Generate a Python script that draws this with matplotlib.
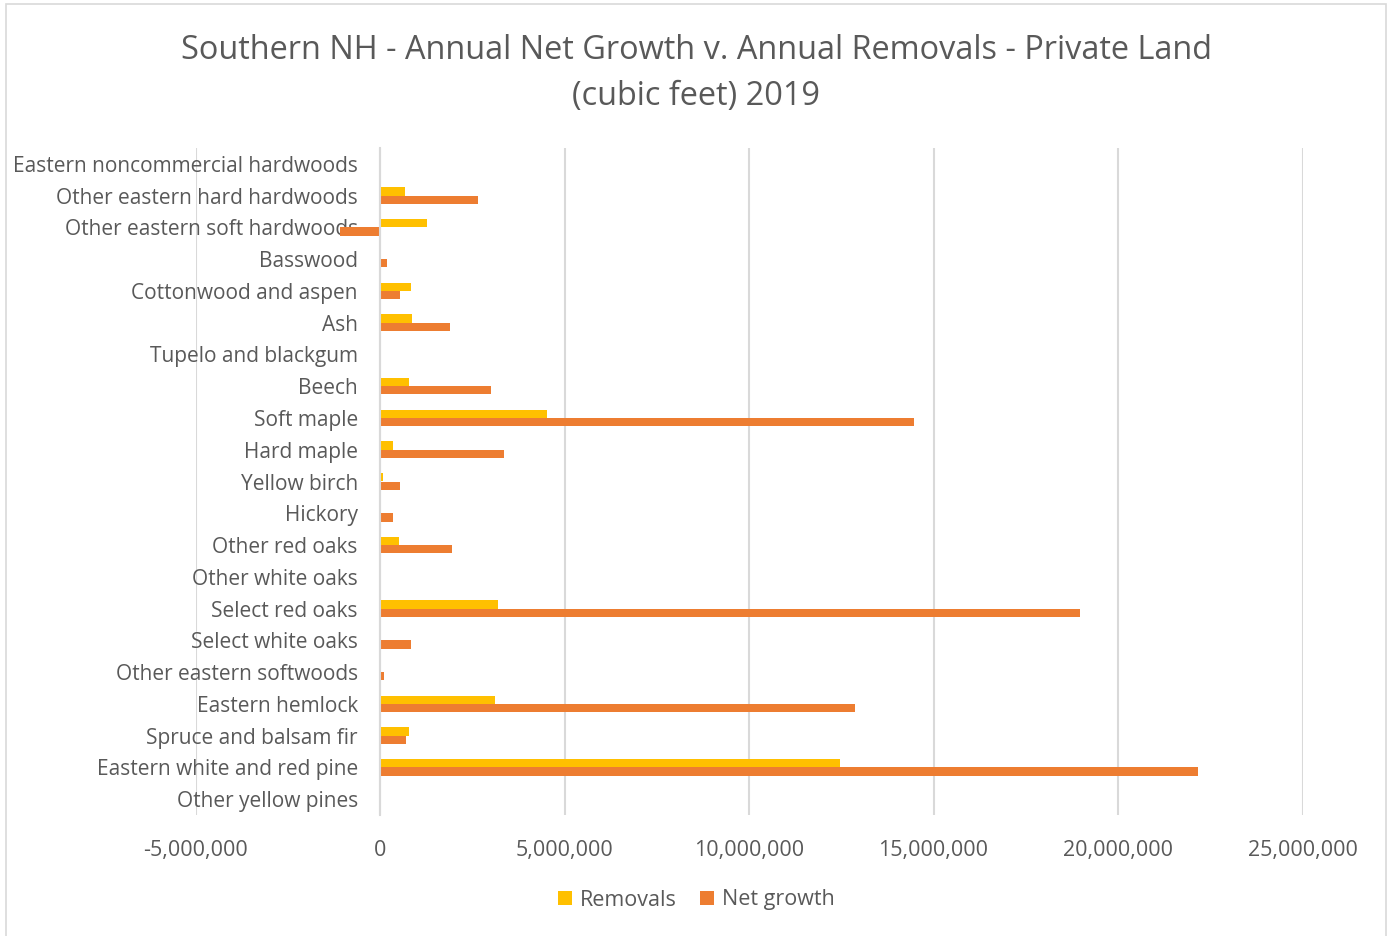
import numpy as np
import matplotlib.pyplot as plt
from matplotlib.ticker import FuncFormatter
from matplotlib.patches import Rectangle

plt.rcParams['font.family'] = ['Open Sans', 'DejaVu Sans']

# categories listed top to bottom as in the chart
species = ["Eastern noncommercial hardwoods", "Other eastern hard hardwoods",
           "Other eastern soft hardwoods", "Basswood", "Cottonwood and aspen",
           "Ash", "Tupelo and blackgum", "Beech", "Soft maple", "Hard maple",
           "Yellow birch", "Hickory", "Other red oaks", "Other white oaks",
           "Select red oaks", "Select white oaks", "Other eastern softwoods",
           "Eastern hemlock", "Spruce and balsam fir",
           "Eastern white and red pine", "Other yellow pines"]

removals = [0, 680000, 1270000, 0, 840000,
            880000, 0, 780000, 4530000, 360000,
            90000, 0, 520000, 0,
            3210000, 0, 0,
            3110000, 790000,
            12470000, 0]

net_growth = [0, 2660000, -1090000, 190000, 530000,
              1890000, 0, 3010000, 14480000, 3360000,
              540000, 350000, 1960000, 0,
              18980000, 830000, 100000,
              12860000, 700000,
              22160000, 0]

x_ticks = [-5000000, 0, 5000000, 10000000, 15000000, 20000000, 25000000]

col_rem = "#FFC000"
col_net = "#ED7D31"
txt_col = "#595959"
grid_col = "#D9D9D9"

fig = plt.figure(figsize=(13.93, 9.36), dpi=100)
ax = fig.add_axes([195.5 / 1393, 1 - 815 / 936, (1302.5 - 195.5) / 1393, (815 - 148) / 936])

pos = np.arange(len(species))
h = 0.26
ax.barh(pos - h / 2, removals, height=h, color=col_rem, label="Removals", zorder=3)
ax.barh(pos + h / 2, net_growth, height=h, color=col_net, label="Net growth", zorder=3)

ax.set_ylim(len(species) - 0.5, -0.5)
ax.set_xlim(x_ticks[0], x_ticks[-1])
ax.set_xticks(x_ticks)
ax.xaxis.set_major_formatter(FuncFormatter(lambda v, p: "{:,.0f}".format(v)))
ax.set_yticks(pos)
ax.set_yticklabels(species)

# category axis sits on the zero line, like excel does
ax.spines['left'].set_position(('data', 0))
ax.spines['left'].set_color(grid_col)
ax.spines['left'].set_linewidth(1.5)
ax.spines['left'].set_zorder(4)
for s in ['top', 'right', 'bottom']:
    ax.spines[s].set_visible(False)

ax.grid(axis='x', color=grid_col, linewidth=1.5, zorder=0)
ax.tick_params(axis='both', length=0, colors=txt_col)
ax.tick_params(axis='x', labelsize=15.5, pad=18)
ax.tick_params(axis='y', labelsize=15, pad=16)
for lbl in ax.get_yticklabels():
    lbl.set_zorder(5)

fig.text(0.5, 1 - 73.5 / 936,
         "Southern NH - Annual Net Growth v. Annual Removals - Private Land\n(cubic feet) 2019",
         ha='center', va='center', fontsize=23.4, color=txt_col, linespacing=1.5)

fig.legend(loc='center', bbox_to_anchor=(0.5, 1 - 900 / 936), ncol=2, frameon=False,
           fontsize=15.5, labelcolor=txt_col, handlelength=0.65, handleheight=0.65,
           handletextpad=0.35, columnspacing=1.1)

# chart border
fig.patches.append(Rectangle((6 / 1393, -0.01), (1386 - 6) / 1393, 1.01 - 4 / 936,
                             transform=fig.transFigure, fill=False,
                             edgecolor=grid_col, linewidth=1.2))

fig.savefig("out.png", dpi=100)
